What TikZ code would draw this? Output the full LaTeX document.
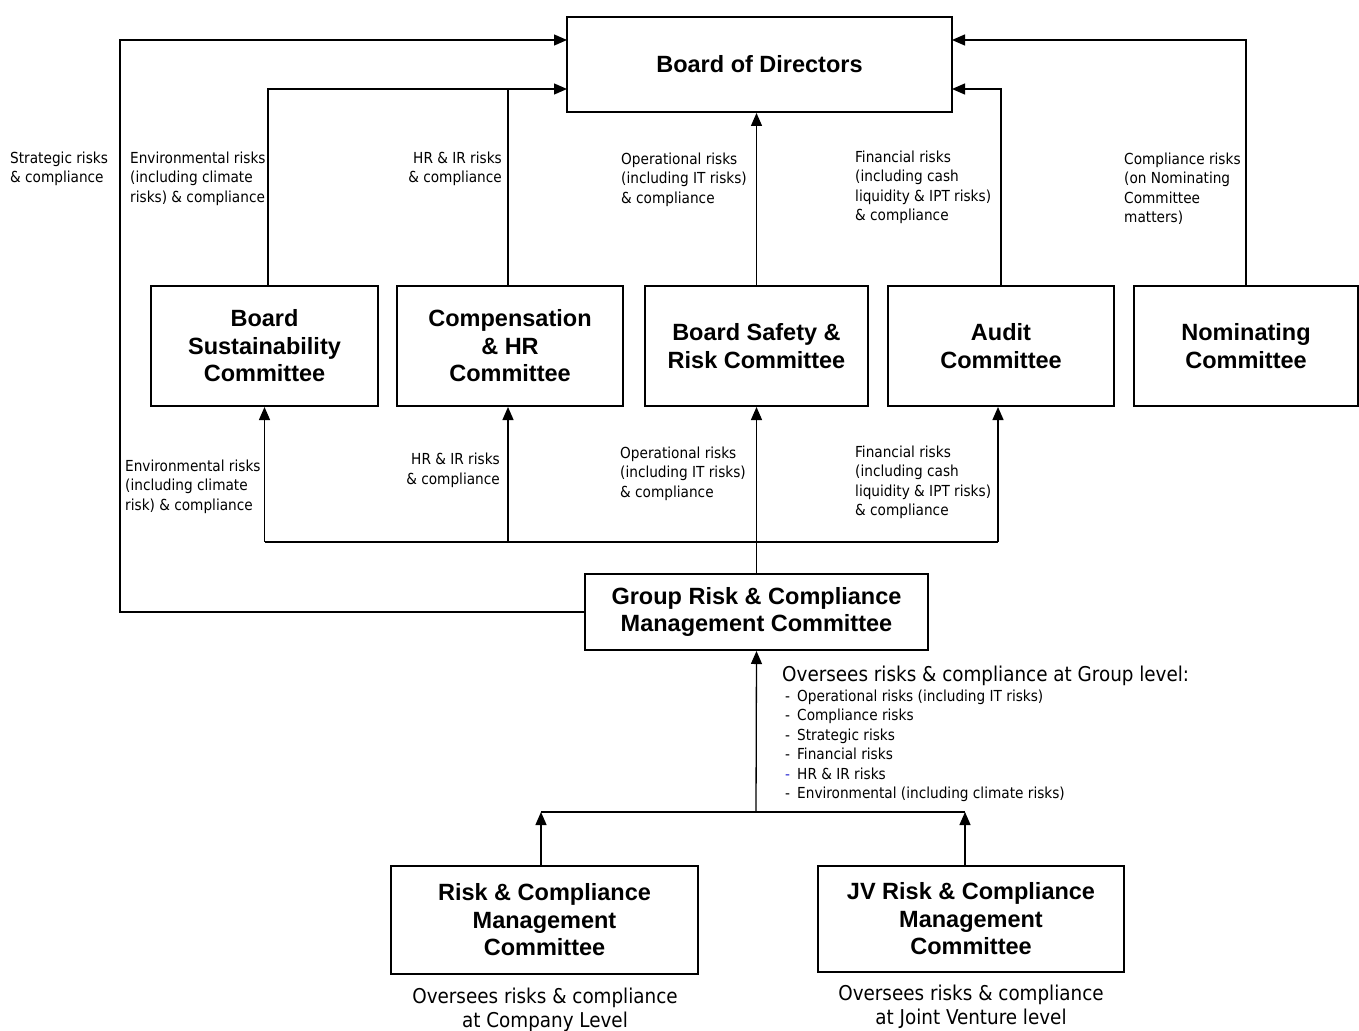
\documentclass[tikz,border=0pt]{standalone}
\usepackage{fontspec}
\setmainfont{DejaVu Sans Condensed}
\newfontfamily\boxfont{Liberation Sans}
\usetikzlibrary{arrows.meta}
\definecolor{dashblue}{RGB}{40,40,210}
\begin{document}
\begin{tikzpicture}[x=1pt,y=-1pt,
  cbox/.style={draw, line width=2pt, inner sep=0pt, align=center,
    font=\boxfont\bfseries\fontsize{23.5}{27.5}\selectfont},
  rowbox/.style={cbox, minimum width=226pt, minimum height=120pt},
  lbl/.style={inner sep=0pt, align=left, font=\fontsize{15.2}{19.5}\selectfont},
  lblr/.style={lbl, align=right},
  big/.style={inner sep=0pt, align=center, font=\fontsize{20.4}{24}\selectfont},
  arr/.style={line width=1.3pt, -{Triangle[length=13pt,width=11pt]}},
  ln/.style={line width=1.3pt}]
\useasboundingbox (0,0) rectangle (1359,1030);

% boxes
\node[cbox, minimum width=385pt, minimum height=95pt] (bod) at (759.5,64.5) {Board of Directors};
\node[rowbox, minimum width=227pt] (sus) at (264.5,346) {Board\\Sustainability\\Committee};
\node[rowbox] (comp) at (510,346) {Compensation\\\& HR\\Committee};
\node[rowbox, minimum width=223pt] (safe) at (756.5,346) {Board Safety \&\\Risk Committee};
\node[rowbox] (aud) at (1001,346) {Audit\\Committee};
\node[rowbox, minimum width=224pt] (nom) at (1246,346) {Nominating\\Committee};
\node[cbox, minimum width=343pt, minimum height=76pt] (grc) at (756.5,612) {Group Risk \& Compliance\\Management Committee};
\node[cbox, minimum width=307pt, minimum height=108pt] (rcm) at (544.5,920) {Risk \& Compliance\\Management\\Committee};
\node[cbox, minimum width=306pt, minimum height=106pt] (jv) at (971,919) {JV Risk \& Compliance\\Management\\Committee};

% coordinates
\coordinate (bL1) at (567,40);
\coordinate (bL2) at (567,89);
\coordinate (bR1) at (952,40);
\coordinate (bR2) at (952,89);
\coordinate (sL) at (120,40);
\coordinate (bus) at (756.5,542);
\coordinate (bus2) at (756,812);

% upper connectors
\draw[arr] (grc.west) -| (sL) -- (bL1);
\draw[arr] ([xshift=3.5pt]sus.north) |- (bL2);
\draw[ln] ([xshift=-2pt]comp.north) -- ([xshift=-2pt]comp.north |- bL2);
\draw[arr] (safe.north) -- (safe.north |- bod.south);
\draw[arr] (aud.north) |- (bR2);
\draw[arr] (nom.north) |- (bR1);

% lower connectors
\draw[line width=2pt] (bus -| sus.south) -- ([xshift=-3pt]bus -| aud.south);
\draw[ln] (grc.north) -- (bus);
\draw[arr] (bus) -- (safe.south);
\draw[arr] (bus -| sus.south) -- (sus.south);
\draw[arr] ([xshift=-2pt]bus -| comp.south) -- ([xshift=-2pt]comp.south);
\draw[arr] ([xshift=-3pt]bus -| aud.south) -- ([xshift=-3pt]aud.south);

% bottom connectors
\draw[ln] ([xshift=-3.5pt]rcm.north |- bus2) -- ([xshift=-6pt]jv.north |- bus2);
\draw[arr] (bus2) -- (grc.south);
\draw[arr] ([xshift=-3.5pt]rcm.north) -- ([xshift=-3.5pt]rcm.north |- bus2);
\draw[arr] ([xshift=-6pt]jv.north) -- ([xshift=-6pt]jv.north |- bus2);

% upper labels
\node[lbl, anchor=north west] (l1) at (10,151.5) {Strategic risks\\\& compliance};
\node[lbl, anchor=north west] (l2) at (130,151.5) {Environmental risks\\(including climate\\risks) \& compliance};
\node[lblr, anchor=north east] (l3) at (502,151.5) {HR \& IR risks\\\& compliance};
\node[lbl, anchor=north west] (l4) at (621,152.5) {Operational risks\\(including IT risks)\\\& compliance};
\node[lbl, anchor=north west] (l5) at (855,150.5) {Financial risks\\(including cash\\liquidity \& IPT risks)\\\& compliance};
\node[lbl, anchor=north west] (l6) at (1124,152.5) {Compliance risks\\(on Nominating\\Committee\\matters)};

% lower labels
\node[lbl, anchor=north west] (l7) at (125,459.5) {Environmental risks\\(including climate\\risk) \& compliance};
\node[lblr, anchor=north east] (l8) at (500,453) {HR \& IR risks\\\& compliance};
\node[lbl, anchor=north west] (l9) at (620,446.5) {Operational risks\\(including IT risks)\\\& compliance};
\node[lbl, anchor=north west] (l10) at (855,445.5) {Financial risks\\(including cash\\liquidity \& IPT risks)\\\& compliance};

% group level text
\node[big, anchor=north west] (gh) at (782,666) {Oversees risks \& compliance at Group level:};
\node[lbl, anchor=north west] (gl) at (785,689.5) {%
\makebox[12pt][l]{-}Operational risks (including IT risks)\\
\makebox[12pt][l]{-}Compliance risks\\
\makebox[12pt][l]{-}Strategic risks\\
\makebox[12pt][l]{-}Financial risks\\
\makebox[12pt][l]{\textcolor{dashblue}{-}}HR \& IR risks\\
\makebox[12pt][l]{-}Environmental (including climate risks)};

% bottom texts
\node[big, anchor=north] (t1) at (545,988) {Oversees risks \& compliance\\at Company Level};
\node[big, anchor=north] (t2) at (971,985) {Oversees risks \& compliance\\at Joint Venture level};
\end{tikzpicture}
\end{document}
